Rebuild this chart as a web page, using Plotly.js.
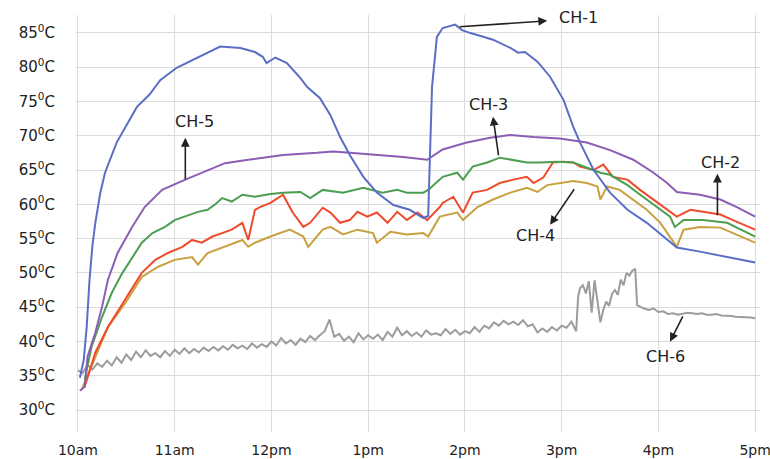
<!DOCTYPE html>
<html>
<head>
<meta charset="utf-8">
<script src="https://cdn.plot.ly/plotly-3.0.1.min.js"></script>
<style>html,body{margin:0;padding:0;background:#fff;}#chart{width:770px;height:459px;}</style>
</head>
<body>
<div id="chart"></div>
<script>
// time in decimal hours (10 = 10am, 17 = 5pm), temperature in °C
var ch1_t = [10.02,10.06,10.09,10.12,10.15,10.18,10.23,10.28,10.40,10.49,10.61,10.74,10.85,11.02,11.23,11.47,11.68,11.83,11.91,11.95,12.04,12.16,12.30,12.37,12.50,12.61,12.71,12.81,12.95,13.09,13.26,13.43,13.57,13.62,13.66,13.71,13.77,13.90,13.97,14.05,14.29,14.47,14.55,14.62,14.75,14.88,15.02,15.12,15.19,15.33,15.50,15.68,15.88,16.05,16.19,16.43,16.71,17.00];
var ch1_v = [34.7,37.3,42.0,49.0,54.0,57.3,61.6,64.6,69.0,71.2,74.2,76.0,78.1,79.9,81.4,83.0,82.8,82.2,81.5,80.6,81.4,80.6,78.4,77.1,75.5,73.0,69.8,67.2,64.0,61.7,59.9,59.2,58.0,58.3,77.1,84.4,85.7,86.2,85.4,85.0,84.0,82.8,82.1,82.2,80.8,78.6,75.2,71.3,69.0,65.0,61.7,59.2,57.3,55.3,53.7,53.1,52.3,51.5];

var ch2_t = [10.07,10.18,10.31,10.49,10.66,10.80,10.93,11.08,11.18,11.28,11.39,11.49,11.59,11.70,11.76,11.83,11.88,11.99,12.12,12.22,12.33,12.40,12.53,12.61,12.71,12.81,12.89,12.99,13.09,13.20,13.30,13.40,13.51,13.61,13.74,13.77,13.88,13.98,14.08,14.23,14.36,14.50,14.64,14.71,14.81,14.91,15.02,15.12,15.19,15.33,15.43,15.53,15.68,15.81,15.95,16.09,16.19,16.33,16.50,16.64,16.77,17.00];
var ch2_v = [33.4,38.4,42.1,46.1,50.0,51.9,52.9,53.8,54.8,54.4,55.3,55.8,56.3,57.3,54.8,59.2,59.6,60.2,61.4,58.8,56.7,57.3,59.5,58.8,57.3,57.7,58.9,58.2,58.8,57.3,58.9,57.7,58.8,57.7,59.6,60.2,61.1,58.8,61.7,62.1,63.1,63.6,64.0,63.1,63.9,66.1,66.2,66.1,65.5,65.0,65.8,64.0,63.6,62.1,60.7,59.2,58.2,59.2,58.8,58.5,57.7,56.3];

var ch3_t = [10.07,10.14,10.25,10.35,10.46,10.56,10.66,10.77,10.90,11.00,11.11,11.24,11.34,11.42,11.49,11.59,11.70,11.83,11.99,12.12,12.30,12.40,12.53,12.74,12.95,13.15,13.30,13.40,13.57,13.62,13.74,13.77,13.92,13.98,14.08,14.23,14.36,14.50,14.64,14.78,14.95,15.12,15.26,15.40,15.50,15.68,15.84,15.99,16.12,16.17,16.26,16.46,16.71,17.00];
var ch3_v = [34.4,39.2,43.6,47.1,50.0,52.3,54.4,55.8,56.7,57.7,58.2,58.9,59.2,60.0,60.9,60.4,61.4,61.1,61.5,61.7,61.8,60.9,62.1,61.7,62.4,61.7,62.1,61.7,61.7,62.1,63.6,64.0,64.6,63.6,65.5,66.1,66.8,66.5,66.1,66.1,66.2,66.1,65.3,64.6,64.3,62.8,61.1,59.6,58.2,56.7,57.7,57.7,57.3,55.3];

var ch4_t = [10.04,10.18,10.31,10.49,10.66,10.83,11.00,11.18,11.24,11.34,11.52,11.70,11.76,11.83,11.99,12.19,12.33,12.38,12.53,12.61,12.74,12.89,13.05,13.09,13.23,13.40,13.57,13.62,13.74,13.92,13.98,14.13,14.29,14.47,14.64,14.75,14.85,14.98,15.12,15.26,15.37,15.40,15.47,15.60,15.74,15.88,16.02,16.12,16.19,16.26,16.43,16.64,16.77,17.00];
var ch4_v = [33.0,37.8,42.1,45.6,49.4,50.9,51.9,52.3,51.2,52.9,53.8,54.8,53.8,54.4,55.3,56.3,55.3,53.8,56.3,56.7,55.6,56.3,55.8,54.4,56.0,55.6,55.8,55.3,58.2,58.8,57.7,59.6,60.7,61.7,62.4,61.8,62.8,63.1,63.4,63.1,62.6,60.7,62.6,62.1,60.7,59.2,57.3,55.3,53.8,56.3,56.7,56.6,55.8,54.4];

var ch5_t = [10.02,10.07,10.10,10.18,10.25,10.31,10.41,10.56,10.69,10.87,11.11,11.34,11.52,11.76,12.12,12.47,12.64,12.81,13.09,13.36,13.61,13.77,14.02,14.26,14.47,14.71,14.98,15.26,15.50,15.74,15.95,16.09,16.19,16.43,16.64,16.81,17.00];
var ch5_v = [32.8,33.4,37.8,41.3,45.1,49.0,52.9,56.7,59.6,62.1,63.6,65.0,66.0,66.5,67.2,67.5,67.7,67.5,67.2,66.9,66.5,68.0,69.0,69.7,70.1,69.8,69.6,69.0,67.9,66.5,64.6,63.1,61.8,61.4,60.7,59.6,58.2];

var ch6_t = [10.00,10.05,10.10,10.15,10.20,10.25,10.30,10.35,10.40,10.45,10.50,10.55,10.60,10.65,10.70,10.75,10.80,10.85,10.90,10.95,11.00,11.05,11.10,11.15,11.20,11.25,11.30,11.35,11.40,11.45,11.50,11.55,11.60,11.65,11.70,11.75,11.80,11.85,11.90,11.95,12.00,12.05,12.10,12.15,12.20,12.25,12.30,12.35,12.40,12.45,12.50,12.55,12.60,12.65,12.70,12.75,12.80,12.85,12.90,12.95,13.00,13.05,13.10,13.15,13.20,13.25,13.30,13.35,13.40,13.45,13.50,13.55,13.60,13.65,13.70,13.75,13.80,13.85,13.90,13.95,14.00,14.05,14.10,14.15,14.20,14.25,14.30,14.35,14.40,14.45,14.50,14.55,14.60,14.65,14.70,14.75,14.80,14.85,14.90,14.95,15.00,15.05,15.10,15.15,15.17,15.19,15.22,15.25,15.28,15.31,15.34,15.37,15.40,15.43,15.46,15.49,15.52,15.55,15.58,15.61,15.64,15.67,15.70,15.73,15.76,15.78,15.82,15.85,15.90,15.95,16.00,16.05,16.10,16.15,16.20,16.25,16.30,16.35,16.40,16.45,16.50,16.55,16.60,16.65,16.70,16.75,16.80,16.85,16.90,16.95,17.00];
var ch6_v = [35.8,35.4,36.6,35.9,36.8,36.3,37.2,36.5,37.7,36.9,38.1,37.3,38.5,37.7,38.7,37.9,38.3,37.7,38.6,37.9,38.8,38.2,39.0,38.3,38.9,38.4,39.1,38.6,39.2,38.7,39.3,38.8,39.5,39.0,39.4,38.9,39.7,39.1,39.6,39.2,40.0,39.4,40.5,39.7,40.2,39.5,40.4,39.9,40.8,40.2,40.9,41.5,43.2,40.7,41.1,40.1,40.7,39.9,41.2,40.3,40.9,40.4,41.0,40.2,41.4,40.7,42.0,40.9,41.5,40.8,41.3,40.7,41.6,41.0,41.2,40.9,41.8,41.1,41.7,41.0,41.5,41.2,42.1,41.4,42.3,41.9,42.8,42.3,43.0,42.5,42.9,42.4,43.1,42.2,42.5,41.3,41.9,41.4,42.1,41.6,42.3,42.0,42.9,41.5,46.5,47.8,48.2,47.0,48.8,44.2,48.9,46.0,42.8,44.6,45.8,45.2,46.9,47.5,46.8,49.0,48.2,50.0,49.6,50.3,50.6,45.3,45.0,44.8,44.6,44.8,44.3,44.4,44.0,44.1,43.9,44.0,44.2,44.1,44.0,44.1,43.9,43.9,44.0,43.8,43.8,43.7,43.6,43.6,43.5,43.5,43.4];

var tick_vals = [10,11,12,13,14,15,16,17];
var tick_text = ['10am','11am','12pm','1pm','2pm','3pm','4pm','5pm'];
var ytick_vals = [30,35,40,45,50,55,60,65,70,75,80,85];

var series = [
  {name:'CH-6', t:ch6_t, v:ch6_v, color:'#9c9c9c'},
  {name:'CH-4', t:ch4_t, v:ch4_v, color:'#c9a03f'},
  {name:'CH-2', t:ch2_t, v:ch2_v, color:'#ef4a2b'},
  {name:'CH-3', t:ch3_t, v:ch3_v, color:'#4c9e50'},
  {name:'CH-5', t:ch5_t, v:ch5_v, color:'#8c5db4'},
  {name:'CH-1', t:ch1_t, v:ch1_v, color:'#5b6ec6'}
];
var traces = series.map(function(s){
  return {x:s.t, y:s.v, name:s.name, type:'scatter', mode:'lines',
          line:{color:s.color, width:2}, hoverinfo:'x+y'};
});

var fontFam = 'DejaVu Sans, Verdana, sans-serif';
function label(text, x, y){
  return {text:text, x:x, y:y, xref:'x', yref:'y', showarrow:false,
          font:{family:fontFam, size:16, color:'#222'}};
}
function arrow(hx, hy, tx, ty){
  return {text:'', x:hx, y:hy, ax:tx, ay:ty, xref:'x', yref:'y', axref:'x', ayref:'y',
          showarrow:true, arrowhead:2, arrowsize:1.1, arrowwidth:1.6, arrowcolor:'#222',
          standoff:0, startstandoff:0};
}
var annotations = [
  label('CH-1', 15.17, 87.19), arrow(14.85, 86.75, 13.93, 85.87),
  label('CH-5', 11.20, 72.03), arrow(11.11, 69.69, 11.11, 63.43),
  label('CH-3', 14.24, 74.5),  arrow(14.29, 72.76, 14.35, 66.92),
  label('CH-4', 14.73, 55.41), arrow(14.88, 57.01, 15.14, 62.41),
  label('CH-2', 16.64, 66.05), arrow(16.61, 64.45, 16.61, 58.18),
  label('CH-6', 16.07, 37.77), arrow(16.12, 39.96, 16.26, 43.89)
];

var layout = {
  width:770, height:459,
  margin:{l:76, r:10, t:15, b:27, pad:0},
  paper_bgcolor:'#fff', plot_bgcolor:'#fff',
  showlegend:false,
  font:{family:fontFam, size:14, color:'#222'},
  xaxis:{range:[9.98,17.05], tickvals:tick_vals, ticktext:tick_text,
         showgrid:true, gridcolor:'#dcdcdc', gridwidth:1, zeroline:false, showline:false,
         ticks:'', ticklabelstandoff:8, ticklabeloverflow:'allow',
         tickfont:{family:fontFam, size:14, color:'#222'}},
  yaxis:{range:[26.8,87.6], tickvals:ytick_vals,
         ticktext:ytick_vals.map(function(v){return v+'<sup>0</sup>C';}),
         showgrid:true, gridcolor:'#dcdcdc', gridwidth:1, zeroline:false, showline:false,
         ticks:'', ticklabelstandoff:20, tickfont:{family:fontFam, size:15, color:'#222'}},
  annotations:annotations
};

Plotly.newPlot('chart', traces, layout, {displayModeBar:false, staticPlot:true});
</script>
</body>
</html>
